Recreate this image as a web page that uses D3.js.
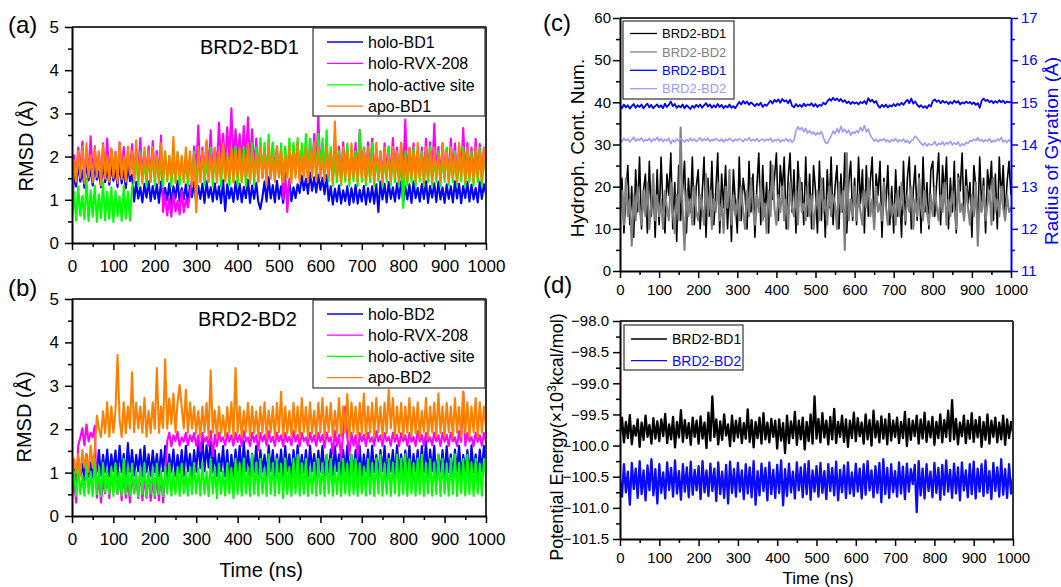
<!DOCTYPE html>
<html>
<head>
<meta charset="utf-8">
<script src="https://cdn.jsdelivr.net/npm/d3@7"></script>
<style>
  body { margin: 0; background: #fff; }
  text { font-family: "Liberation Sans", Arial, sans-serif; }
</style>
</head>
<body>
<script>
// sampling: one value every 5 ns, 0..1000
const time = d3.range(0, 1001, 5);

// (a) BRD2-BD1 RMSD
const holoBD1 = [
  0.72,1.62,1.31,1.84,1.42,1.68,1.28,1.93,1.45,1.71,1.33,1.82,1.47,1.66,1.29,1.88,1.41,1.74,1.35,1.79,
  1.44,1.69,1.30,1.86,1.38,1.72,1.27,1.81,1.43,1.58,0.96,1.41,1.03,1.29,0.94,1.37,1.05,1.43,0.97,1.32,
  1.02,1.36,0.93,1.42,1.04,1.28,0.99,1.38,0.92,1.31,1.03,1.44,0.96,1.27,1.01,1.36,0.91,1.33,1.06,1.41,
  0.94,1.32,1.02,1.37,0.93,1.43,1.05,1.29,0.96,1.38,1.01,1.31,0.92,1.45,0.74,1.36,1.03,1.28,0.95,1.42,
  1.01,1.37,0.94,1.30,1.04,1.46,0.93,1.33,1.02,1.39,0.95,0.79,1.06,1.42,0.96,1.52,1.03,1.34,0.94,1.44,
  1.02,1.31,0.93,1.38,1.05,1.43,0.97,1.29,1.04,1.36,1.16,1.56,1.22,1.49,1.14,1.63,1.21,1.52,1.17,1.58,
  1.23,1.51,1.13,1.57,0.98,1.31,0.89,1.26,0.96,1.33,0.91,1.22,0.97,1.31,0.88,1.27,0.94,1.34,0.91,1.23,
  0.96,1.32,0.89,1.27,0.95,1.31,0.91,1.36,0.72,1.42,1.01,1.37,0.94,1.41,1.02,1.29,0.96,1.38,1.03,1.43,
  0.94,1.31,1.01,1.36,0.93,1.42,1.04,1.28,0.96,1.37,1.02,1.43,0.93,1.32,1.05,1.38,0.95,1.41,1.01,1.29,
  0.93,1.36,1.02,1.31,0.94,1.43,1.03,1.37,0.92,1.32,1.04,1.41,0.96,1.35,1.01,1.28,0.94,1.42,1.02,1.36,
  1.12
];
const holoRVX_a = [
  0.92,2.03,1.52,2.21,1.63,2.34,1.48,2.12,1.61,2.47,1.53,2.24,1.64,2.09,1.49,2.31,1.58,2.42,1.51,2.18,
  1.62,2.11,1.47,2.33,1.59,2.22,1.52,2.04,1.63,2.29,1.48,2.19,1.61,2.43,1.53,2.12,1.66,2.24,1.49,2.36,
  1.58,2.13,1.52,2.49,0.72,1.12,0.64,1.03,0.61,1.14,0.73,0.98,0.66,1.21,0.71,1.02,0.82,1.13,1.52,2.23,
  1.61,2.72,1.49,2.21,1.63,2.34,1.72,2.61,1.58,2.19,1.74,2.79,1.91,2.53,1.82,2.68,1.93,3.12,1.81,2.63,
  1.92,2.52,1.83,2.71,1.89,2.91,1.78,2.63,1.71,2.42,1.62,2.33,1.51,2.21,1.63,2.12,1.52,2.31,1.61,2.24,
  1.53,2.14,1.02,1.63,0.72,1.48,1.52,2.23,1.61,2.32,1.49,2.14,1.63,2.21,1.52,2.41,1.64,2.52,1.73,2.92,
  1.62,2.31,1.51,2.19,1.63,2.12,1.48,2.42,1.59,2.23,1.52,2.33,1.63,2.21,1.49,2.13,1.61,2.32,1.52,2.62,
  1.63,2.21,1.49,2.33,1.61,2.42,1.53,2.19,1.64,2.12,1.48,2.31,1.62,2.23,1.51,2.43,1.63,2.21,1.49,2.32,
  1.61,2.86,1.52,2.19,1.63,2.31,1.49,2.12,1.62,2.21,1.53,2.41,1.61,2.33,1.49,2.76,1.62,2.22,1.51,2.31,
  1.63,2.19,1.52,2.42,1.61,2.31,1.49,2.23,1.62,2.66,1.51,2.32,1.63,2.21,1.52,2.41,1.61,2.29,1.53,2.21,
  1.82
];
const holoActive_a = [
  0.62,1.18,0.52,1.31,0.63,1.09,0.55,1.48,0.51,1.22,0.61,1.33,0.49,1.12,0.58,1.41,0.52,1.19,0.56,1.29,
  0.49,1.21,0.62,1.08,0.51,1.32,0.56,1.19,0.52,1.28,1.41,2.02,1.32,2.11,1.43,1.92,1.31,2.04,1.42,2.13,
  1.33,2.01,1.42,1.93,1.31,2.12,1.44,2.02,1.32,1.91,1.43,2.09,1.34,1.99,1.41,1.92,1.32,2.03,1.43,2.11,
  1.31,2.02,1.42,2.13,1.33,1.94,1.41,2.21,1.32,2.03,1.44,2.12,1.31,2.22,1.43,2.01,1.32,2.13,1.41,2.23,
  1.33,2.11,1.42,2.22,1.31,2.03,1.43,2.31,1.34,2.21,1.42,2.43,1.52,2.32,1.43,2.51,1.53,2.33,1.44,2.22,
  1.52,2.31,1.43,2.23,1.51,2.42,1.53,2.32,1.61,2.43,1.52,2.31,1.62,2.52,1.53,2.41,1.61,2.33,1.52,2.53,
  1.61,2.42,1.52,2.61,1.43,2.22,1.32,2.03,1.41,2.12,1.33,2.01,1.42,2.31,1.32,2.02,1.43,2.13,1.31,2.61,
  1.42,2.21,1.33,2.02,1.41,2.32,1.32,2.01,1.43,2.11,1.31,2.03,1.42,2.22,1.33,2.01,1.41,2.12,1.32,2.02,
  0.81,2.12,1.33,2.01,1.42,2.21,1.31,2.03,1.43,2.12,1.32,2.01,1.41,2.23,1.33,2.02,1.42,2.11,1.31,2.03,
  1.42,2.21,1.33,2.02,1.41,2.12,1.32,2.01,1.43,2.22,1.31,2.03,1.42,2.11,1.33,2.02,1.41,2.21,1.32,2.03,
  1.62
];
const apoBD1 = [
  0.82,1.91,1.42,2.13,1.51,2.22,1.38,2.31,1.52,2.03,1.41,2.21,1.53,2.12,1.33,2.28,1.49,2.02,1.42,2.19,
  1.51,2.11,1.39,2.32,1.48,2.01,1.42,2.23,1.58,2.12,1.41,2.38,1.52,2.03,1.37,2.21,1.49,2.13,1.42,2.22,
  1.52,2.02,1.38,2.31,1.51,2.12,1.43,2.01,1.52,2.46,1.39,2.11,1.53,2.02,1.41,2.21,1.48,2.12,1.32,2.03,
  0.71,2.22,1.41,2.13,1.52,2.38,1.42,2.02,1.51,2.21,1.39,2.12,1.53,2.31,1.42,2.03,1.49,2.22,1.41,2.12,
  1.52,2.21,1.41,2.02,1.53,2.32,1.38,2.11,1.52,2.03,1.42,2.22,1.51,2.12,1.33,2.31,1.49,2.02,1.42,2.21,
  1.53,2.12,1.41,2.03,1.52,2.22,1.39,2.11,1.51,2.31,1.42,2.02,1.53,2.21,1.41,2.12,1.52,2.32,1.43,2.22,
  1.51,2.03,1.42,2.21,1.53,2.12,1.41,2.81,1.52,2.02,1.39,2.22,1.51,2.11,1.42,2.31,1.53,2.02,1.41,2.21,
  1.52,2.12,1.41,2.22,1.53,2.01,1.42,2.32,1.51,2.11,1.39,2.21,1.52,2.03,1.41,2.22,1.53,2.12,1.42,2.31,
  1.51,2.02,1.42,2.21,1.53,2.12,1.41,2.32,1.52,2.03,1.39,2.22,1.51,2.11,1.42,2.21,1.53,2.02,1.41,2.31,
  1.52,2.11,1.42,2.22,1.51,2.03,1.41,2.32,1.53,2.12,1.39,2.21,1.52,2.02,1.41,2.22,1.53,2.11,1.42,2.21,
  1.62
];

// (b) BRD2-BD2 RMSD
const holoBD2 = [
  0.62,1.12,0.81,1.33,0.92,1.21,0.83,1.42,0.91,1.23,0.89,1.31,1.02,1.52,0.93,1.41,1.01,1.53,0.92,1.42,
  1.03,1.51,0.92,1.62,1.01,1.43,0.91,1.68,1.02,1.52,0.93,1.41,1.03,1.53,0.91,1.61,1.02,1.42,0.93,1.51,
  1.01,1.43,0.92,1.52,1.03,1.61,0.91,1.42,1.02,1.53,0.93,1.41,1.01,1.52,0.92,1.62,1.03,1.43,0.91,1.52,
  1.02,1.71,1.11,1.82,1.03,1.63,1.12,1.79,1.01,1.52,0.92,1.43,1.03,1.61,0.91,1.52,0.82,1.41,0.93,1.53,
  1.02,1.62,0.91,1.72,1.03,1.51,0.92,1.43,1.01,1.62,0.93,1.52,1.02,1.41,0.91,1.63,1.03,1.52,0.92,1.42,
  1.01,1.53,0.92,1.61,1.03,1.42,0.91,1.52,1.02,1.63,0.93,1.41,1.01,1.52,0.92,1.62,1.03,1.43,0.91,1.51,
  1.02,1.62,0.93,1.41,1.01,1.53,0.92,1.61,1.03,1.42,0.91,1.52,1.02,1.63,0.93,1.41,1.01,1.52,0.92,1.61,
  0.91,1.42,1.02,1.53,0.93,1.62,1.01,1.41,0.92,1.52,1.03,1.61,0.91,1.43,1.02,1.52,0.93,1.63,1.01,1.42,
  0.92,1.51,1.03,1.62,0.91,1.43,1.02,1.52,0.93,1.61,1.01,1.72,0.92,1.53,1.03,1.62,0.91,1.41,1.02,1.52,
  0.93,1.61,1.01,1.42,0.92,1.53,1.03,1.62,0.91,1.41,1.02,1.52,0.93,1.63,1.01,1.42,0.92,1.53,1.03,1.61,
  1.22
];
const holoRVX_b = [
  0.41,0.82,0.31,1.62,1.81,2.02,1.63,2.11,1.72,1.91,1.82,2.08,0.42,0.91,0.31,0.82,0.52,1.03,0.41,0.92,
  0.62,1.12,0.51,0.91,0.36,1.02,0.42,0.83,0.31,1.01,0.52,0.92,0.41,1.11,0.36,0.92,0.42,1.02,0.35,0.83,
  0.41,0.92,0.36,1.03,0.31,0.91,1.72,1.92,1.61,1.86,1.73,1.94,1.62,1.81,1.71,1.92,1.63,1.86,1.72,1.91,
  1.62,1.86,1.49,1.91,1.71,1.82,1.62,1.96,1.38,1.87,1.61,1.92,1.72,1.81,1.63,1.91,1.71,1.86,1.62,1.92,
  1.71,1.87,1.62,1.96,1.72,1.81,1.61,1.92,1.71,1.86,1.52,1.91,1.72,1.87,1.63,1.96,1.71,1.82,1.61,1.92,
  1.72,1.86,1.61,1.91,1.71,1.82,1.63,1.96,1.72,1.87,1.61,1.91,1.73,1.81,1.62,1.92,1.71,1.86,1.62,1.91,
  1.71,1.87,1.58,1.92,1.72,1.81,1.43,1.96,1.61,1.87,1.32,1.91,2.52,1.82,1.41,1.92,1.62,1.86,1.38,1.91,
  1.72,1.87,1.61,1.92,1.71,1.81,1.62,1.96,1.72,1.86,1.61,1.91,1.73,1.82,1.62,1.92,1.71,1.87,1.61,1.91,
  1.72,1.86,1.62,1.91,1.71,1.82,1.61,1.96,1.72,1.87,1.62,1.91,1.71,1.81,1.63,1.92,1.72,1.86,1.61,1.91,
  1.71,1.87,1.62,1.92,1.72,1.81,1.61,1.96,1.71,2.86,1.62,1.91,1.72,1.82,1.61,1.92,1.71,1.86,1.62,1.91,
  1.72
];
const holoActive_b = [
  0.52,1.02,0.46,1.12,0.51,0.92,0.47,1.21,0.52,1.01,0.46,1.31,0.51,1.12,0.45,1.22,0.56,1.02,0.51,1.12,
  0.46,1.22,0.52,1.01,0.47,1.32,0.51,1.12,0.46,1.21,0.52,1.02,0.45,1.13,0.51,1.22,0.46,1.01,0.52,1.12,
  0.47,1.21,0.51,1.02,0.46,1.12,0.52,1.22,0.47,1.01,0.51,1.13,0.46,1.21,0.52,1.02,0.47,1.12,0.51,1.22,
  0.52,1.11,0.47,1.23,0.51,1.02,0.46,1.31,0.52,1.12,0.41,1.21,0.51,1.03,0.47,1.22,0.52,1.11,0.41,1.32,
  0.51,1.22,0.47,1.33,0.52,1.12,0.46,1.41,0.51,1.23,0.47,1.32,0.52,1.11,0.46,1.42,0.51,1.22,0.47,1.31,
  0.52,1.21,0.41,1.33,0.51,1.12,0.46,1.32,0.52,1.41,0.47,1.22,0.51,1.31,0.46,1.12,0.52,1.23,0.47,1.32,
  0.51,1.22,0.46,1.41,0.52,1.31,0.47,1.12,0.51,1.23,0.46,1.32,0.52,1.21,0.47,1.42,0.51,1.31,0.46,1.22,
  0.52,1.12,0.47,1.31,0.51,1.22,0.46,1.33,0.52,1.41,0.47,1.21,0.51,1.32,0.46,1.23,0.52,1.41,0.47,1.32,
  0.51,1.42,0.46,1.31,0.52,1.22,0.47,1.33,0.51,1.41,0.46,1.22,0.52,1.31,0.47,1.23,0.51,1.42,0.46,1.32,
  0.52,1.21,0.47,1.33,0.51,1.42,0.46,1.22,0.52,1.31,0.47,1.41,0.51,1.23,0.46,1.32,0.52,1.21,0.47,1.31,
  0.92
];
const apoBD2 = [
  0.82,1.31,0.98,1.42,0.91,1.52,1.12,1.41,1.02,1.62,1.11,1.52,2.31,2.02,1.82,2.41,1.91,2.62,1.83,2.52,
  1.92,2.43,3.71,2.21,1.82,2.62,1.91,2.52,2.02,3.31,1.93,2.61,2.01,2.52,1.92,2.72,1.83,2.42,1.91,2.62,
  2.01,3.41,1.92,2.52,2.03,3.61,2.01,2.71,2.12,2.82,1.93,2.62,3.02,2.51,2.02,2.91,1.92,2.62,2.01,2.52,
  1.91,2.42,1.82,2.52,1.93,2.61,1.81,3.36,1.92,2.43,1.82,2.52,1.91,2.32,1.83,2.51,1.92,2.62,1.81,3.41,
  1.92,2.52,1.81,2.42,1.93,2.61,1.82,2.52,1.91,2.41,1.83,2.52,1.92,2.62,1.81,2.43,1.92,2.52,1.81,2.61,
  1.93,2.86,1.82,2.52,1.91,2.42,1.83,2.61,1.92,2.52,1.81,2.72,1.93,2.51,1.82,2.62,1.91,2.42,1.83,2.61,
  1.92,2.72,1.81,2.52,1.93,2.61,1.82,2.42,1.91,2.72,1.83,2.52,1.92,2.81,1.81,2.62,1.93,2.52,1.82,2.61,
  1.91,2.82,1.83,2.52,1.92,2.61,1.81,2.72,1.93,2.52,1.82,2.61,1.91,2.91,2.02,2.72,1.83,2.52,1.92,2.61,
  1.81,2.52,1.92,2.72,1.83,2.51,1.91,2.62,1.82,2.42,1.93,2.72,1.81,2.52,1.92,2.61,1.83,2.82,1.91,2.52,
  1.82,2.61,1.93,2.52,1.81,2.72,1.92,2.51,1.83,2.86,1.91,2.62,1.82,2.52,1.93,2.72,1.81,2.62,1.92,2.52,
  2.02
];

// (c) hydrophobic contacts (left axis) and radius of gyration (right axis)
const hydroBD1 = [
  12,22,9,18,25,11,20,8,24,14,27,10,19,23,9,26,13,21,8,24,
  11,27,15,9,23,18,28,10,21,7,25,12,19,26,9,22,14,27,11,20,
  24,10,18,27,8,22,13,26,11,19,28,9,23,15,25,10,21,7,24,16,
  9,27,12,22,18,10,26,14,23,8,20,28,11,25,13,21,9,26,17,22,
  28,12,25,19,27,10,22,28,14,24,9,26,18,21,11,27,13,23,10,25,
  19,9,26,12,22,8,24,15,27,11,20,25,10,23,14,28,9,21,26,12,
  22,11,27,16,24,9,25,13,21,27,10,23,18,26,8,22,15,25,11,20,
  9,24,13,20,8,26,11,22,27,10,19,25,12,23,9,27,14,21,10,24,
  26,13,21,28,11,25,18,27,10,22,14,26,9,23,19,28,12,24,16,21,
  8,25,20,11,27,15,22,9,24,19,26,12,23,10,27,17,25,13,21,26,
  18
];
const hydroBD2 = [
  14,19,11,22,13,17,6,18,12,20,15,11,19,13,21,10,16,23,12,18,
  13,17,10,19,15,12,21,14,9,18,12,34,15,5,19,13,17,11,20,14,
  12,18,15,11,23,13,19,10,17,14,21,12,16,9,20,15,24,11,18,13,
  17,12,20,14,10,19,13,22,15,11,18,14,21,12,16,9,19,13,25,15,
  11,18,14,20,12,17,10,21,15,13,19,11,22,14,16,12,20,13,18,10,
  15,19,12,22,14,17,11,20,13,18,16,10,21,14,19,5,28,12,17,13,
  20,12,18,14,11,19,15,22,13,17,10,20,14,16,12,21,15,11,18,13,
  16,11,19,13,21,15,12,18,14,20,10,17,13,22,15,12,19,14,11,18,
  13,20,15,12,18,14,21,11,17,13,19,15,10,22,14,16,12,20,15,11,
  18,13,21,6,17,14,20,12,16,19,11,22,14,17,13,20,15,12,18,14,
  15
];
const rgBD1 = [
  14.92,14.86,14.95,14.88,14.93,14.85,14.91,14.96,14.87,14.93,14.89,14.95,14.86,14.92,14.97,14.88,14.94,14.86,14.91,14.95,
  14.88,14.93,14.86,14.97,14.89,14.94,15.02,14.91,14.96,14.87,14.92,14.88,14.95,14.86,14.93,14.89,14.84,14.92,14.87,14.94,
  14.89,14.95,14.87,14.93,14.98,14.90,14.95,14.87,14.93,14.88,14.96,14.89,14.94,14.86,14.92,14.88,14.95,14.87,14.91,14.86,
  14.94,15.01,14.95,15.03,14.97,15.02,14.94,15.00,14.96,14.91,14.97,14.93,14.99,14.89,14.95,14.92,14.98,15.04,14.97,15.06,
  15.01,15.07,14.99,15.08,15.02,15.05,14.98,15.06,14.92,14.88,14.96,14.90,14.94,14.89,14.97,14.91,14.95,14.93,14.98,14.90,
  14.96,14.89,14.94,14.92,14.99,14.95,15.02,15.08,15.04,15.11,15.05,15.09,15.03,15.08,15.01,15.05,14.98,15.02,14.96,15.01,
  14.97,15.00,14.95,15.01,14.98,15.03,14.96,15.10,15.02,15.06,14.99,15.03,14.92,14.87,14.94,14.89,14.95,14.88,14.93,14.90,
  14.96,14.91,14.97,14.93,14.99,14.94,15.01,15.06,14.98,15.09,14.97,15.02,14.94,14.89,14.93,14.87,14.91,14.86,14.94,14.90,
  15.03,15.07,15.01,15.05,14.98,15.04,14.99,15.02,14.96,15.01,14.97,15.04,14.99,15.03,14.95,15.00,14.97,15.02,14.98,15.01,
  14.96,15.00,14.94,14.98,14.87,15.04,15.09,15.03,15.06,15.00,15.04,14.98,15.03,14.99,15.05,15.00,15.04,14.98,15.02,15.00,
  15.01
];
const rgBD2 = [
  14.12,14.07,14.15,14.09,14.13,14.06,14.11,14.17,14.08,14.13,14.10,14.16,14.07,14.12,14.09,14.15,14.06,14.13,14.10,14.17,
  14.08,14.14,14.07,14.12,14.09,14.15,14.02,14.11,14.06,14.13,14.08,14.14,14.10,14.06,14.12,14.08,14.15,14.09,14.13,14.07,
  14.11,14.16,14.08,14.13,14.10,14.15,14.07,14.12,14.09,14.14,14.11,14.08,14.13,14.06,14.12,14.09,14.15,14.10,14.07,14.13,
  14.09,14.14,14.11,14.07,14.13,14.10,14.16,14.08,14.12,14.09,14.14,14.07,14.11,14.13,14.08,14.12,14.10,14.15,14.07,14.11,
  14.09,14.13,14.06,14.11,14.08,14.14,14.07,14.12,14.05,14.10,14.32,14.42,14.35,14.40,14.30,14.38,14.27,14.33,14.25,14.30,
  14.22,14.28,14.24,14.31,14.18,14.05,14.02,14.12,14.20,14.32,14.25,14.38,14.28,14.43,14.30,14.36,14.27,14.34,14.22,14.30,
  14.26,14.33,14.28,14.41,14.32,14.45,14.30,14.37,14.22,14.15,14.08,14.13,14.06,14.12,14.09,14.14,14.07,14.11,14.05,14.12,
  14.08,14.14,14.06,14.11,14.08,14.13,14.05,14.10,14.03,14.09,14.12,14.20,14.15,14.08,14.03,13.98,14.04,13.96,14.02,13.99,
  14.00,14.07,13.97,14.03,14.00,14.06,13.98,14.05,14.01,14.08,13.99,14.04,14.00,14.06,13.96,14.02,13.98,14.05,14.02,14.10,
  14.07,14.13,14.09,14.16,14.08,14.12,14.06,14.11,14.08,14.14,14.05,14.10,14.07,14.13,14.09,14.17,14.06,14.10,14.05,14.11,
  14.08
];

// (d) potential energy, x10^3 kcal/mol
const energyBD1 = [
  -99.82,-99.55,-99.95,-99.62,-99.88,-99.51,-99.98,-99.68,-99.84,-99.58,-100.02,-99.63,-99.91,-99.52,-99.86,-99.67,-99.97,-99.56,-99.89,-99.61,
  -99.93,-99.58,-99.85,-99.49,-99.96,-99.66,-99.90,-99.54,-100.03,-99.62,-99.87,-99.43,-99.94,-99.59,-99.88,-99.64,-99.99,-99.55,-99.86,-99.60,
  -99.97,-99.53,-99.89,-99.63,-100.04,-99.47,-99.92,-99.21,-99.86,-99.58,-99.98,-99.61,-99.91,-99.50,-99.84,-99.66,-100.01,-99.52,-99.93,-99.60,
  -99.87,-99.56,-99.96,-99.64,-99.89,-99.42,-99.94,-99.59,-100.03,-99.62,-99.88,-99.55,-99.97,-99.48,-99.90,-99.63,-99.95,-99.57,-99.86,-99.60,
  -100.05,-99.58,-99.92,-99.64,-100.12,-99.52,-99.96,-99.61,-99.88,-99.46,-99.99,-99.60,-99.90,-99.55,-100.06,-99.62,-99.93,-99.50,-99.97,-99.21,
  -99.89,-99.57,-99.95,-99.48,-99.87,-99.60,-99.98,-99.54,-99.90,-99.41,-99.96,-99.62,-99.86,-99.52,-99.94,-99.58,-100.02,-99.60,-99.88,-99.47,
  -99.93,-99.56,-99.85,-99.63,-99.97,-99.50,-99.90,-99.59,-100.00,-99.44,-99.87,-99.61,-99.95,-99.53,-99.89,-99.58,-99.98,-99.49,-99.92,-99.60,
  -99.86,-99.55,-99.96,-99.62,-99.88,-99.46,-100.01,-99.57,-99.91,-99.60,-99.85,-99.52,-99.97,-99.58,-99.89,-99.47,-99.94,-99.61,-99.87,-99.54,
  -99.99,-99.62,-99.88,-99.50,-99.95,-99.59,-99.86,-99.44,-99.93,-99.27,-99.90,-99.57,-99.98,-99.63,-99.85,-99.52,-99.96,-99.60,-99.89,-99.48,
  -99.94,-99.59,-99.87,-99.54,-100.02,-99.62,-99.91,-99.50,-99.97,-99.60,-99.86,-99.55,-99.95,-99.63,-99.90,-99.52,-99.99,-99.58,-99.88,-99.62,
  -99.80
];
const energyBD2 = [
  -100.55,-100.82,-100.30,-100.75,-100.42,-100.95,-100.28,-100.70,-100.37,-100.84,-100.25,-100.78,-100.40,-100.88,-100.32,-100.72,-100.22,-100.80,-100.38,-100.93,
  -100.30,-100.76,-100.43,-100.85,-100.27,-100.71,-100.36,-100.82,-100.24,-100.77,-100.41,-100.87,-100.30,-100.74,-100.35,-100.83,-100.26,-100.79,-100.39,-100.72,
  -100.33,-100.86,-100.25,-100.75,-100.40,-100.81,-100.29,-100.73,-100.37,-100.89,-100.27,-100.78,-100.42,-100.84,-100.31,-100.93,-100.26,-100.76,-100.38,-100.82,
  -100.28,-100.74,-100.40,-100.86,-100.30,-100.77,-100.35,-100.83,-100.25,-100.95,-100.41,-100.80,-100.29,-100.73,-100.36,-100.88,-100.27,-100.78,-100.39,-100.84,
  -100.31,-100.76,-100.24,-100.96,-100.38,-100.81,-100.29,-100.75,-100.42,-100.85,-100.27,-100.72,-100.35,-100.83,-100.30,-100.78,-100.25,-100.87,-100.40,-100.74,
  -100.33,-100.82,-100.28,-100.76,-100.41,-100.86,-100.30,-100.73,-100.36,-100.80,-100.26,-100.88,-100.39,-100.75,-100.32,-100.84,-100.27,-100.77,-100.43,-100.81,
  -100.29,-100.74,-100.37,-100.85,-100.30,-100.79,-100.25,-100.72,-100.40,-100.83,-100.33,-100.76,-100.28,-100.91,-100.22,-100.78,-100.36,-100.84,-100.30,-100.75,
  -100.41,-100.82,-100.27,-100.77,-100.34,-100.86,-100.29,-100.74,-100.38,-100.62,-100.31,-101.07,-100.25,-100.80,-100.37,-100.85,-100.30,-100.73,-100.42,-100.83,
  -100.28,-100.76,-100.36,-100.87,-100.31,-100.79,-100.24,-100.74,-100.39,-100.84,-100.29,-100.77,-100.35,-100.88,-100.27,-100.72,-100.40,-100.83,-100.30,-100.78,
  -100.26,-100.85,-100.37,-100.74,-100.30,-100.81,-100.24,-100.76,-100.41,-100.86,-100.28,-100.73,-100.35,-100.82,-100.22,-100.79,-100.38,-100.84,-100.30,-100.77,
  -100.50
];

const svg = d3.select("body").append("svg").attr("width", 1061).attr("height", 587);
const defs = svg.append("defs");

function styleAxis(g, fs, color) {
  g.select(".domain").attr("stroke", color).attr("stroke-width", 2);
  g.selectAll(".tick line").attr("stroke", color).attr("stroke-width", 1.5);
  g.selectAll(".tick text").attr("fill", color).attr("font-size", fs)
    .attr("font-family", "Liberation Sans, Arial, sans-serif");
}

function drawPanel(p) {
  const x = d3.scaleLinear().domain([0, 1000]).range([p.x0, p.x1]);
  const y = d3.scaleLinear().domain(p.yDomain).range([p.y1, p.y0]);
  const y2 = p.y2Domain ? d3.scaleLinear().domain(p.y2Domain).range([p.y1, p.y0]) : null;

  defs.append("clipPath").attr("id", "clip-" + p.id)
    .append("rect").attr("x", p.x0).attr("y", p.y0)
    .attr("width", p.x1 - p.x0).attr("height", p.y1 - p.y0);

  const plot = svg.append("g").attr("clip-path", `url(#clip-${p.id})`);
  p.series.forEach((s) => {
    const sc = s.right ? y2 : y;
    const line = d3.line().x((d, i) => x(time[i])).y((d) => sc(d));
    plot.append("path").datum(s.values)
      .attr("fill", "none").attr("stroke", s.color)
      .attr("stroke-width", s.lw || 2.1).attr("stroke-linejoin", "round")
      .attr("d", line);
  });

  // frame
  svg.append("line").attr("x1", p.x0).attr("x2", p.x1).attr("y1", p.y0).attr("y2", p.y0)
    .attr("stroke", "#333").attr("stroke-width", 2);
  if (!y2) {
    svg.append("line").attr("x1", p.x1).attr("x2", p.x1).attr("y1", p.y0).attr("y2", p.y1)
      .attr("stroke", "#333").attr("stroke-width", 2);
  }

  // minor ticks first, then major axes
  svg.append("g").attr("transform", `translate(0,${p.y1})`)
    .call(d3.axisBottom(x).tickValues(d3.range(50, 1000, 100)).tickSize(4).tickFormat(""))
    .call((g) => { styleAxis(g, p.fs, "#000"); g.select(".domain").remove(); });
  svg.append("g").attr("transform", `translate(${p.x0},0)`)
    .call(d3.axisLeft(y).tickValues(p.yMinor).tickSize(4).tickFormat(""))
    .call((g) => { styleAxis(g, p.fs, "#000"); g.select(".domain").remove(); });

  svg.append("g").attr("transform", `translate(0,${p.y1})`)
    .call(d3.axisBottom(x).tickValues(d3.range(0, 1001, 100)).tickSize(7)
      .tickSizeOuter(0).tickPadding(p.xPad).tickFormat(d3.format("d")))
    .call((g) => styleAxis(g, p.fs, "#000"));
  svg.append("g").attr("transform", `translate(${p.x0},0)`)
    .call(d3.axisLeft(y).tickValues(p.yTicks).tickSize(7).tickSizeOuter(0)
      .tickPadding(p.yPad).tickFormat(p.yFormat || d3.format("d")))
    .call((g) => styleAxis(g, p.fs, "#000"));

  if (y2) {
    svg.append("g").attr("transform", `translate(${p.x1},0)`)
      .call(d3.axisRight(y2).tickValues(p.y2Minor).tickSize(4).tickFormat(""))
      .call((g) => { styleAxis(g, p.fs, "#0000ff"); g.select(".domain").remove(); });
    svg.append("g").attr("transform", `translate(${p.x1},0)`)
      .call(d3.axisRight(y2).tickValues(p.y2Ticks).tickSize(7).tickSizeOuter(0)
        .tickPadding(3).tickFormat(d3.format("d")))
      .call((g) => styleAxis(g, p.fs, "#0000ff"));
  }

  // legend
  const L = p.legend;
  svg.append("rect").attr("x", L.x).attr("y", L.y).attr("width", L.w).attr("height", L.h)
    .attr("fill", "#fff").attr("stroke", "#333").attr("stroke-width", 1.2);
  p.series.forEach((s, i) => {
    const cy = L.y + L.first + i * L.step;
    svg.append("line").attr("x1", L.x + L.l0).attr("x2", L.x + L.l1)
      .attr("y1", cy).attr("y2", cy).attr("stroke", s.color).attr("stroke-width", 1.3);
    svg.append("text").attr("x", L.x + L.l1 + 5).attr("y", cy + L.fs * 0.36)
      .attr("font-size", L.fs).attr("fill", L.colored ? s.color : "#000").text(s.name);
  });
}

const panelA = {
  id: "a", x0: 72, x1: 486, y0: 27, y1: 243, yDomain: [0, 5],
  yTicks: d3.range(0, 6), yMinor: d3.range(0.5, 5, 1), fs: 17, xPad: 10, yPad: 6,
  series: [
    { name: "holo-BD1", values: holoBD1, color: "#0000ff" },
    { name: "holo-RVX-208", values: holoRVX_a, color: "#ff00ff" },
    { name: "holo-active site", values: holoActive_a, color: "#00ff00" },
    { name: "apo-BD1", values: apoBD1, color: "#ff8000" }
  ],
  legend: { x: 313, y: 28, w: 172, h: 88, first: 14, step: 21.4, l0: 14, l1: 50, fs: 16 }
};
const panelB = {
  id: "b", x0: 72, x1: 486, y0: 299, y1: 516, yDomain: [0, 5],
  yTicks: d3.range(0, 6), yMinor: d3.range(0.5, 5, 1), fs: 17, xPad: 10, yPad: 6,
  series: [
    { name: "holo-BD2", values: holoBD2, color: "#0000ff" },
    { name: "holo-RVX-208", values: holoRVX_b, color: "#ff00ff" },
    { name: "holo-active site", values: holoActive_b, color: "#00ff00" },
    { name: "apo-BD2", values: apoBD2, color: "#ff8000" }
  ],
  legend: { x: 313, y: 300, w: 172, h: 88, first: 14, step: 21.2, l0: 14, l1: 50, fs: 16 }
};
const panelC = {
  id: "c", x0: 620, x1: 1011, y0: 18, y1: 271, yDomain: [0, 60],
  yTicks: d3.range(0, 61, 10), yMinor: d3.range(5, 60, 10), fs: 15, xPad: 6, yPad: 2,
  y2Domain: [11, 17], y2Ticks: d3.range(11, 18), y2Minor: d3.range(11.5, 17, 1),
  series: [
    { name: "BRD2-BD1", values: hydroBD1, color: "#000000", lw: 1.6 },
    { name: "BRD2-BD2", values: hydroBD2, color: "#808080", lw: 2.1 },
    { name: "BRD2-BD1", values: rgBD1, color: "#0000ff", right: true, lw: 1.8 },
    { name: "BRD2-BD2", values: rgBD2, color: "#9a9aff", right: true, lw: 1.6 }
  ],
  legend: { x: 623, y: 21, w: 111, h: 78, first: 12.5, step: 18.4, l0: 7, l1: 34, fs: 13, colored: true }
};
const panelD = {
  id: "d", x0: 620, x1: 1013, y0: 321, y1: 539, yDomain: [-101.5, -98],
  yTicks: d3.range(-101.5, -97.9, 0.5), yMinor: d3.range(-101.25, -98, 0.5),
  yFormat: d3.format(".1f"), fs: 15, xPad: 6, yPad: 4,
  series: [
    { name: "BRD2-BD1", values: energyBD1, color: "#000000", lw: 2.3 },
    { name: "BRD2-BD2", values: energyBD2, color: "#0a0aff", lw: 2.3 }
  ],
  legend: { x: 624, y: 325, w: 119, h: 45, first: 14, step: 21.7, l0: 7, l1: 43, fs: 14, colored: true }
};

[panelA, panelB, panelC, panelD].forEach(drawPanel);

// titles and labels
const txt = (x, y, s, fs, opts = {}) => {
  const t = svg.append("text").attr("x", x).attr("y", y).attr("font-size", fs)
    .attr("fill", opts.color || "#000").attr("text-anchor", opts.anchor || "start").text(s);
  if (opts.rotate) t.attr("transform", `rotate(-90,${x},${y})`);
  return t;
};
txt(8, 33, "(a)", 24);
txt(8, 296, "(b)", 24);
txt(543, 31, "(c)", 24);
txt(543, 293, "(d)", 24);
txt(200, 54, "BRD2-BD1", 20);
txt(198, 326, "BRD2-BD2", 20);
txt(33, 146, "RMSD (Å)", 20, { anchor: "middle", rotate: true });
txt(31, 417, "RMSD (Å)", 20, { anchor: "middle", rotate: true });
txt(261, 577, "Time (ns)", 20, { anchor: "middle" });
txt(584, 148, "Hydroph. Cont. Num.", 19, { anchor: "middle", rotate: true });
txt(1058, 151, "Radius of Gyration (Å)", 19, { anchor: "middle", rotate: true, color: "#0000ff" });
txt(818, 584, "Time (ns)", 17, { anchor: "middle" });

const pe = svg.append("text").attr("x", 563).attr("y", 437).attr("font-size", 18)
  .attr("text-anchor", "middle").attr("transform", "rotate(-90,563,437)");
pe.append("tspan").text("Potential Energy(×10");
pe.append("tspan").attr("font-size", 12).attr("baseline-shift", "super").text("3");
pe.append("tspan").text("kcal/mol)");
</script>
</body>
</html>
